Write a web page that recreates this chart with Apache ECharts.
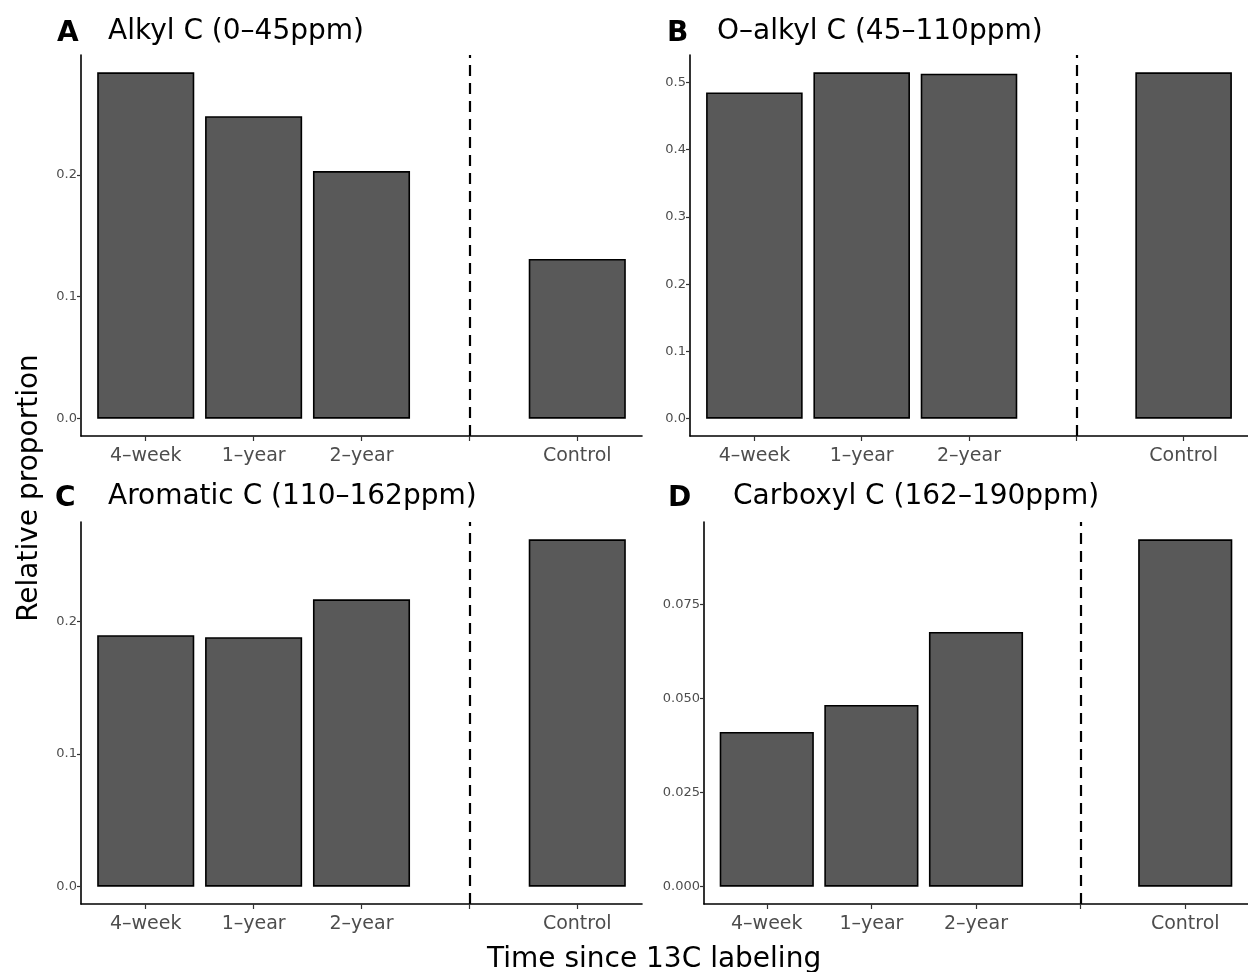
<!DOCTYPE html>
<html>
<head>
<meta charset="utf-8">
<script src="https://cdn.jsdelivr.net/npm/echarts@6/dist/echarts.min.js"></script>
<style>
  html, body { margin: 0; padding: 0; background: #fff; }
  #chart { width: 1248px; height: 972px; }
</style>
</head>
<body>
<div id="chart"></div>
<script>
// categories (4th slot is the gap where the dashed separator sits)
var categories = ['4\u2013week', '1\u2013year', '2\u2013year', '', 'Control']

// relative proportions
var alkyl    = [0.284, 0.248, 0.203, null, 0.131]
var oAlkyl   = [0.485, 0.515, 0.513, null, 0.515]
var aromatic = [0.1895, 0.188, 0.2165, null, 0.2617]
var carboxyl = [0.0411, 0.0483, 0.0677, null, 0.0923]

var panelTags   = ['A', 'B', 'C', 'D']
var panelTitles = ['Alkyl C (0\u201345ppm)', 'O\u2013alkyl C (45\u2013110ppm)', 'Aromatic C (110\u2013162ppm)', 'Carboxyl C (162\u2013190ppm)']

// y tick values per panel
var yTicksA = [0, 0.1, 0.2]
var yTicksB = [0, 0.1, 0.2, 0.3, 0.4, 0.5]
var yTicksC = [0, 0.1, 0.2]
var yTicksD = [0, 0.025, 0.05, 0.075]

var panels = [
  { data: alkyl,    ticks: yTicksA, dec: 1, grid: { left: 81,  top: 55,  width: 561, height: 381 }, tag: [57, 20],  title: [108, 18] },
  { data: oAlkyl,   ticks: yTicksB, dec: 1, grid: { left: 690, top: 55,  width: 558, height: 381 }, tag: [667, 20], title: [717, 18] },
  { data: aromatic, ticks: yTicksC, dec: 1, grid: { left: 81,  top: 522, width: 561, height: 382 }, tag: [55, 485], title: [108, 483] },
  { data: carboxyl, ticks: yTicksD, dec: 3, grid: { left: 704, top: 522, width: 544, height: 382 }, tag: [668, 485], title: [733, 483] }
]

var FONT = 'DejaVu Sans'
var xPos = [1, 2, 3, 4, 5]

var grids = [], xAxes = [], yAxes = [], series = [], titles = []

panels.forEach(function (p, i) {
  var maxVal = Math.max.apply(null, p.data.filter(function (v) { return v != null }))
  grids.push(p.grid)

  xAxes.push({
    type: 'value', gridIndex: i, min: 0.4, max: 5.6,
    splitLine: { show: false },
    axisLine: { show: true, onZero: false, lineStyle: { color: '#000', width: 1.6 } },
    axisTick: { show: true, customValues: xPos, length: 5, lineStyle: { color: '#333', width: 1.2 } },
    axisLabel: {
      customValues: xPos, margin: 11, color: '#4d4d4d', fontSize: 19, fontFamily: FONT,
      formatter: function (v) { return categories[Math.round(v) - 1] }
    }
  })

  yAxes.push({
    type: 'value', gridIndex: i,
    min: -0.05 * maxVal, max: 1.05 * maxVal,
    splitLine: { show: false },
    axisLine: { show: true, onZero: false, lineStyle: { color: '#000', width: 1.6 } },
    axisTick: { show: true, customValues: p.ticks, length: 4, lineStyle: { color: '#333', width: 1.2 } },
    axisLabel: {
      customValues: p.ticks, margin: 4, color: '#4d4d4d', fontSize: 13, fontFamily: FONT,
      formatter: function (v) { return v.toFixed(p.dec) }
    }
  })

  var pts = []
  p.data.forEach(function (v, k) { if (v != null) pts.push([xPos[k], v]) })

  series.push({
    type: 'bar', xAxisIndex: i, yAxisIndex: i,
    data: pts,
    barWidth: p.grid.width / 5.2 * 0.9,
    itemStyle: { color: '#595959', borderColor: '#000', borderWidth: 1.6 },
    silent: true,
    markLine: {
      silent: true, symbol: 'none', label: { show: false },
      lineStyle: { color: '#000', type: [11, 7], width: 2.2 },
      data: [{ xAxis: xPos[3] }]
    }
  })

  titles.push({
    text: panelTags[i], left: p.tag[0], top: p.tag[1], padding: 0,
    textStyle: { fontFamily: FONT, fontSize: 28, fontWeight: 'bold', color: '#000' }
  })
  titles.push({
    text: panelTitles[i], left: p.title[0], top: p.title[1], padding: 0,
    textStyle: { fontFamily: FONT, fontSize: 28, fontWeight: 'normal', color: '#000' }
  })
})

titles.push({
  text: 'Time since 13C labeling', left: 487, top: 946, padding: 0,
  textStyle: { fontFamily: FONT, fontSize: 28, fontWeight: 'normal', color: '#000' }
})

var chart = echarts.init(document.getElementById('chart'))
chart.setOption({
  animation: false,
  title: titles,
  grid: grids,
  xAxis: xAxes,
  yAxis: yAxes,
  series: series,
  graphic: [{
    type: 'text', x: 30, y: 488, rotation: Math.PI / 2,
    style: { text: 'Relative proportion', fontFamily: FONT, fontSize: 28, fill: '#000', align: 'center', verticalAlign: 'middle' }
  }]
})
</script>
</body>
</html>
